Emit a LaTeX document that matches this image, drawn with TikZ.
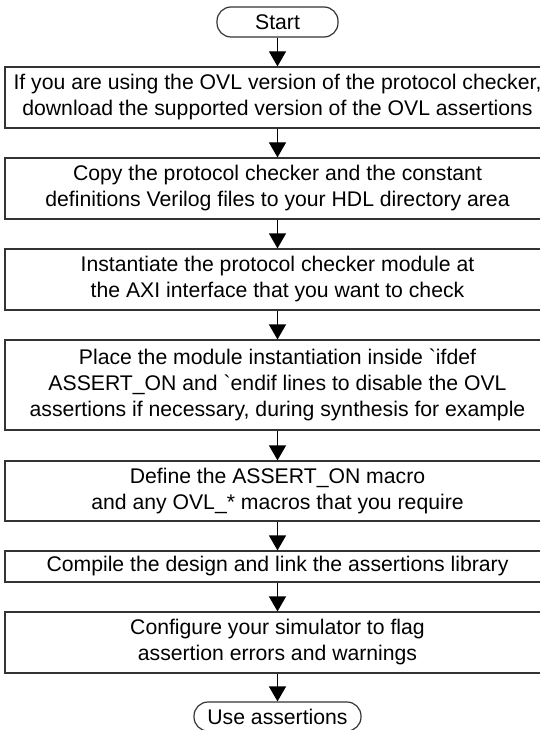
\documentclass[tikz,border=0pt]{standalone}
\usepackage{fontspec}
\setmainfont{Liberation Sans}
\usetikzlibrary{arrows.meta}
\tikzset{
    stepbox/.style={draw=black!80, line width=1.2pt, minimum width=545pt,
        inner sep=0pt, align=center, font=\fontsize{21.2}{26}\selectfont},
    termbox/.style={draw=black!80, line width=1.2pt, rounded corners=14pt,
        inner sep=0pt, align=center, font=\fontsize{21.2}{26}\selectfont},
    flow/.style={line width=1.2pt, -{Triangle[length=15pt,width=17pt]}}
}
\newcommand{\bq}{\textasciigrave}
\begin{document}
\begin{tikzpicture}[x=1pt,y=-1pt]
        \useasboundingbox (0,0) rectangle (540,730);
        \clip (0,0) rectangle (540,730);
        %% Start and end
        \node[termbox, minimum width=121pt, minimum height=30pt] (start) at (277.5,22) {Start};
        \node[termbox, minimum width=167pt, minimum height=29pt] (use) at (277.5,716.5) {Use assertions};
        %% Steps
        \node[stepbox, minimum height=61pt] (download) at (277.5,97.5)
            {If you are using the OVL version of the protocol checker,\\download the supported version of the OVL assertions};
        \node[stepbox, minimum height=61pt] (copy) at (277.5,188.5)
            {Copy the protocol checker and the constant\\definitions Verilog files to your HDL directory area};
        \node[stepbox, minimum height=61pt] (inst) at (277.5,279.5)
            {Instantiate the protocol checker module at\\the AXI interface that you want to check};
        \node[stepbox, minimum height=90pt] (place) at (277.5,385)
            {Place the module instantiation inside \bq ifdef\\ASSERT\_ON and \bq endif lines to disable the OVL\\assertions if necessary, during synthesis for example};
        \node[stepbox, minimum height=60pt] (define) at (277.5,491)
            {Define the ASSERT\_ON macro\\and any OVL\_* macros that you require};
        \node[stepbox, minimum height=31pt] (compile) at (277.5,566.5)
            {Compile the design and link the assertions library};
        \node[stepbox, minimum height=61pt] (config) at (277.5,642.5)
            {Configure your simulator to flag\\assertion errors and warnings};
        %% Arrows
        \foreach \a/\b in {start/download, download/copy, copy/inst, inst/place,
                           place/define, define/compile, compile/config, config/use}
            \draw[flow] (\a) -- (\b);
    \end{tikzpicture}
\end{document}
